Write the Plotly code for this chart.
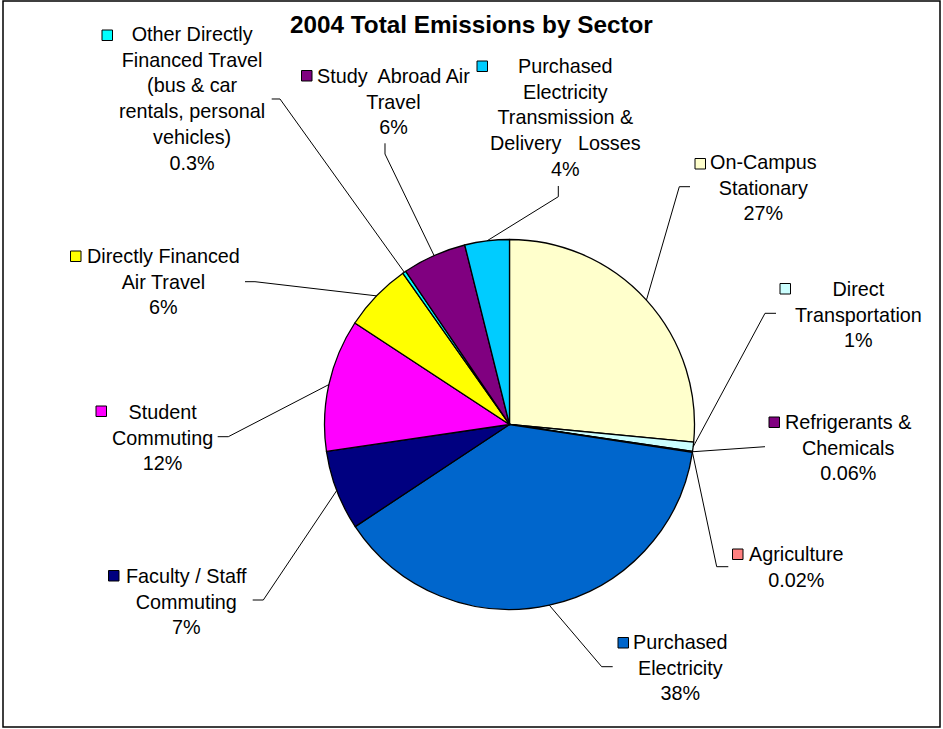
import math
import plotly.graph_objects as go

# Sector shares of 2004 emissions, clockwise from 12 o'clock
sectors = [
    "On-Campus<br>Stationary",
    "Direct<br>Transportation",
    "Refrigerants &amp;<br>Chemicals",
    "Agriculture",
    "Purchased<br>Electricity",
    "Faculty / Staff<br>Commuting",
    "Student<br>Commuting",
    "Directly Financed<br>Air Travel",
    "Other Directly<br>Financed Travel<br>(bus &amp; car<br>rentals, personal<br>vehicles)",
    "Study\u00a0 Abroad Air<br>Travel",
    "Purchased<br>Electricity<br>Transmission &amp;<br>Delivery\u00a0\u00a0 Losses",
]
emissions = [26.6, 0.8, 0.06, 0.02, 38.4, 7.0, 11.6, 6.0, 0.3, 5.6, 3.9]
colors = ["#FFFFCC", "#CCFFFF", "#800080", "#FF8080", "#0066CC", "#000080",
          "#FF00FF", "#FFFF00", "#00FFFF", "#800080", "#00CCFF"]

W, H = 943, 729
CX, CY, R = 509.5, 424.5, 185.0          # pie centre and radius (px)
FONT = "Liberation Sans, Arial, sans-serif"
FS = 19.8
TITLE_FS = 24.3


def X(px):
    return px / W


def Y(py):
    return 1 - py / H


def pct_text(v, total):
    p = 100.0 * v / total
    if p >= 0.5:
        return f"{p:.0f}%"
    if p >= 0.1:
        return f"{p:.1f}%"
    return f"{p:.2f}%"


# label placement: centre x, first-line baseline, key box, leader path after the slice edge
label_layout = [
    dict(cx=763.3, base=168.3, key=(695, 158.5), leader=[(679.3, 186.7), (690, 186.7)]),
    dict(cx=858.8, base=295.0, key=(780, 283.5), leader=[(765, 313.3), (776, 313.3)]),
    dict(cx=848.3, base=428.3, key=(769, 417.0), leader=[(765, 446.7)]),
    dict(cx=796.7, base=560.0, key=(732.5, 549.0), leader=[(716.7, 566.7), (728.3, 566.7)]),
    dict(cx=680.6, base=648.3, key=(618, 637.5), leader=[(601.7, 666.7), (612.7, 666.7)]),
    dict(cx=186.3, base=581.7, key=(108.5, 570.5), leader=[(263.3, 600), (252.7, 600)]),
    dict(cx=162.8, base=418.3, key=(96, 406.0), leader=[(228.3, 436.7), (217.7, 436.7)]),
    dict(cx=163.3, base=261.7, key=(70.5, 251.0), leader=[(255, 281.7), (245, 281.7)]),
    dict(cx=191.5, base=40.0, key=(102, 30.0), leader=[(280, 99), (271.7, 99)]),
    dict(cx=393.0, base=81.7, key=(301.5, 70.5), leader=[(385, 154), (385, 143.3)]),
    dict(cx=565.6, base=71.7, key=(477, 61.0), leader=[(558.3, 196.7), (558.3, 186)]),
]

total = sum(emissions)

fig = go.Figure(go.Pie(
    labels=[s.replace("<br>", " ") for s in sectors],
    values=emissions,
    sort=False,
    direction="clockwise",
    rotation=0,
    marker=dict(colors=colors, line=dict(color="black", width=1.3)),
    textinfo="none",
    hoverinfo="label+percent",
    showlegend=False,
    domain=dict(x=[X(CX - R), X(CX + R)], y=[Y(CY + R), Y(CY - R)]),
))

shapes = []
annotations = []
cum = 0.0
KEY = 10.5
for name, v, col, lay in zip(sectors, emissions, colors, label_layout):
    mid = 2 * math.pi * (cum + v / 2) / total
    cum += v
    sx = CX + R * math.sin(mid)
    sy = CY - R * math.cos(mid)
    pts = [(sx, sy)] + lay["leader"]
    path = "M " + " L ".join(f"{X(a):.5f},{Y(b):.5f}" for a, b in pts)
    shapes.append(dict(type="path", xref="paper", yref="paper", path=path,
                       line=dict(color="black", width=1)))
    kx, ky = lay["key"]
    shapes.append(dict(type="rect", xref="paper", yref="paper",
                       x0=X(kx), x1=X(kx + KEY), y0=Y(ky + KEY), y1=Y(ky),
                       fillcolor=col, line=dict(color="black", width=1)))
    top = lay["base"] - 0.905 * FS - 1
    annotations.append(dict(
        text=name + "<br>" + pct_text(v, total),
        x=X(lay["cx"]), y=Y(top), xref="paper", yref="paper",
        xanchor="center", yanchor="top", align="center", showarrow=False,
        font=dict(family=FONT, size=FS, color="black"),
    ))

# chart title
annotations.append(dict(
    text="<b>2004 Total Emissions by Sector</b>",
    x=X(471.7), y=Y(31.7 - 0.905 * TITLE_FS - 1), xref="paper", yref="paper",
    xanchor="center", yanchor="top", showarrow=False,
    font=dict(family=FONT, size=TITLE_FS, color="black"),
))

# outer chart frame
shapes.append(dict(type="rect", xref="paper", yref="paper",
                   x0=X(3), x1=X(940), y0=Y(727), y1=Y(1),
                   line=dict(color="black", width=1.5), fillcolor="rgba(0,0,0,0)"))

fig.update_layout(
    width=W, height=H,
    margin=dict(l=0, r=0, t=0, b=0),
    paper_bgcolor="white", plot_bgcolor="white",
    shapes=shapes, annotations=annotations,
)

fig.write_html("out.html")
